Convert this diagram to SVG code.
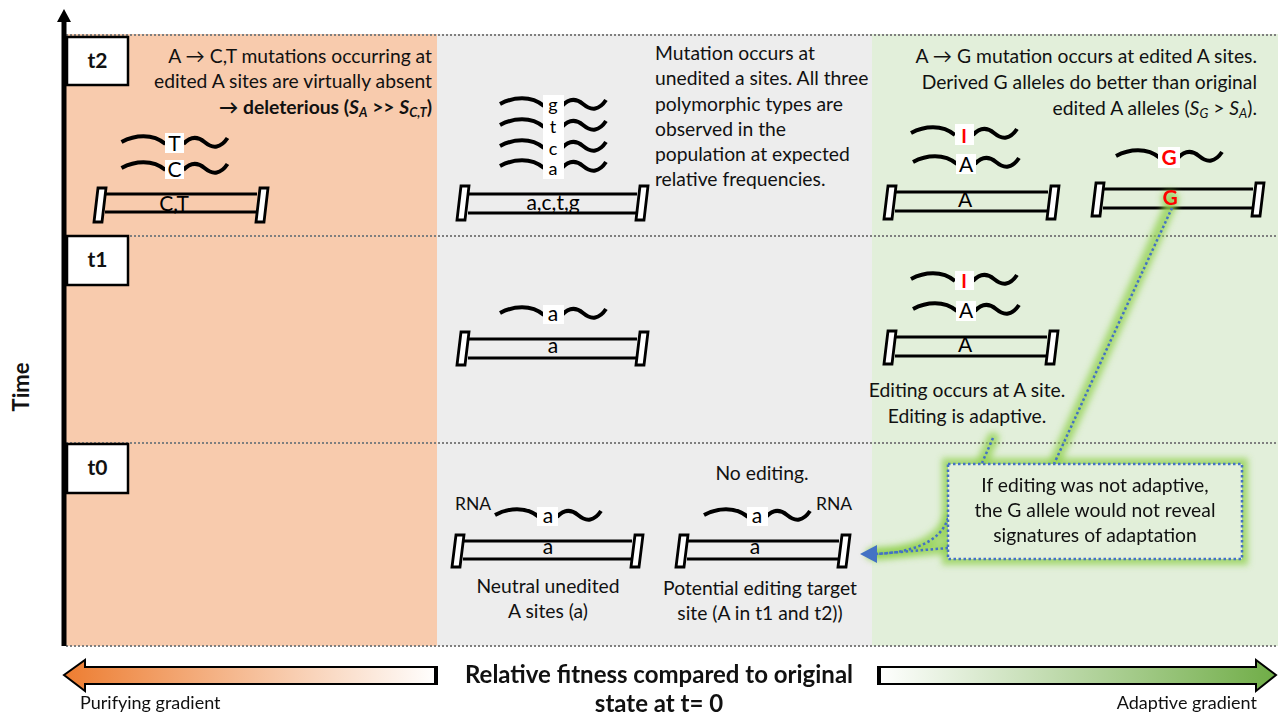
<svg xmlns="http://www.w3.org/2000/svg" width="1278" height="716" viewBox="0 0 1278 716">
<defs>
<style>
.t{font-family:Lato,"Liberation Sans",sans-serif;font-size:19.3px;fill:#111}
.lb{font-family:Lato,"Liberation Sans",sans-serif;font-size:21px;fill:#000;text-anchor:middle}
.sm{font-size:18px}
.bold{font-weight:bold}
.red{fill:#FF0000;font-weight:bold}
.wave{fill:none;stroke:#000;stroke-width:4;stroke-linecap:butt}
.bar{stroke:#000;stroke-width:3}
.cap{fill:#fff;stroke:#000;stroke-width:2.8}
.lblbox{fill:#fff}
.dot{fill:none;stroke:#7F7F7F;stroke-width:2;stroke-dasharray:2 2}
.conn{fill:none;stroke:#4472C4;stroke-width:2.5;stroke-dasharray:2.5 2.5}
.glow{fill:none;stroke:#92D050;stroke-width:12;opacity:0.75;stroke-linecap:round}
.tbox{fill:#fff;stroke:#000;stroke-width:2.5}
</style>
<filter id="blur" x="-20%" y="-20%" width="140%" height="140%"><feGaussianBlur stdDeviation="3"/></filter>
<linearGradient id="gOr" x1="0" x2="1" y1="0" y2="0"><stop offset="0" stop-color="#ED7D31"/><stop offset="1" stop-color="#FFFFFF"/></linearGradient>
<linearGradient id="gGr" x1="0" x2="1" y1="0" y2="0"><stop offset="0" stop-color="#FFFFFF"/><stop offset="1" stop-color="#70AD47"/></linearGradient>
<g id="w"><path class="wave" d="M-53,-1 C-40,-8 -22,-10 -9,1"/><path class="wave" d="M9,1 Q19,-10 30,-1 Q43,10 53,-5"/></g>
</defs>

<!-- panels -->
<g id="panels">
<rect x="66" y="34" width="371" height="612" fill="#F8CBAD"/>
<rect x="437" y="34" width="435" height="612" fill="#EDEDED"/>
<rect x="872" y="34" width="406" height="612" fill="#E2EFDA"/>
<line class="dot" x1="66" y1="35" x2="1278" y2="35"/>
<line class="dot" x1="66" y1="236" x2="1278" y2="236"/>
<line class="dot" x1="66" y1="443" x2="1278" y2="443"/>
<line class="dot" x1="66" y1="646" x2="1278" y2="646"/>
</g>

<!-- axis -->
<g id="axis">
<line x1="64" y1="18" x2="64" y2="646" stroke="#000" stroke-width="5"/>
<polygon points="64,9 57,22 71,22" fill="#000"/>
<text class="t bold" transform="translate(29,387) rotate(-90)" text-anchor="middle" style="font-size:22px">Time</text>
</g>

<g id="t2label"><rect class="tbox" x="67" y="37" width="61" height="48"/><text class="t bold" x="97.5" y="68" text-anchor="middle" style="font-size:21px">t2</text></g>
<g id="t1label"><rect class="tbox" x="67" y="236" width="61" height="49"/><text class="t bold" x="97.5" y="267" text-anchor="middle" style="font-size:21px">t1</text></g>
<g id="t0label"><rect class="tbox" x="67" y="444" width="61" height="49"/><text class="t bold" x="97.5" y="475" text-anchor="middle" style="font-size:21px">t0</text></g>

<!-- orange t2 -->
<g id="orange-t2">
<text class="t" text-anchor="end" x="432" y="63">A → C,T mutations occurring at</text>
<text class="t" text-anchor="end" x="432" y="88">edited A sites are virtually absent</text>
<text class="t bold" text-anchor="end" x="432" y="114">→ deleterious (<tspan font-style="italic">S</tspan><tspan font-style="italic" font-size="13" dy="3">A</tspan><tspan dy="-3"> &gt;&gt; </tspan><tspan font-style="italic">S</tspan><tspan font-style="italic" font-size="13" dy="3">C,T</tspan><tspan dy="-3">)</tspan></text>
<use href="#w" x="174.5" y="143"/><rect class="lblbox" x="165" y="133" width="19" height="20"/><text class="lb" x="174.5" y="151">T</text>
<use href="#w" x="174.5" y="169"/><rect class="lblbox" x="165" y="160" width="19" height="19"/><text class="lb" x="174.5" y="177">C</text>
<line class="bar" x1="105" y1="194" x2="257" y2="194"/><line class="bar" x1="105" y1="212" x2="257" y2="212"/>
<text class="lb" x="174" y="211">C,T</text>
<polygon class="cap" points="94,222 98,188 106,188 102,222"/>
<polygon class="cap" points="256,222 260,188 268,188 264,222"/>
</g>

<!-- gray t2 -->
<g id="gray-t2">
<use href="#w" x="553" y="105"/><use href="#w" x="553" y="126"/><use href="#w" x="553" y="147"/><use href="#w" x="553" y="167"/>
<rect class="lblbox" x="543" y="95" width="21" height="84"/>
<text class="lb sm" x="553" y="111">g</text><text class="lb sm" x="553" y="133">t</text><text class="lb sm" x="553" y="155">c</text><text class="lb sm" x="553" y="175">a</text>
<line class="bar" x1="468" y1="194" x2="637" y2="194"/><line class="bar" x1="468" y1="213" x2="637" y2="213"/>
<text class="lb" x="553" y="210">a,c,t,g</text>
<polygon class="cap" points="457,220 461,186 469,186 465,220"/>
<polygon class="cap" points="636,220 640,186 648,186 644,220"/>
<text class="t" x="655" y="60">Mutation occurs at</text>
<text class="t" x="655" y="85">unedited a sites. All three</text>
<text class="t" x="655" y="111">polymorphic types are</text>
<text class="t" x="655" y="136">observed in the</text>
<text class="t" x="655" y="161">population at expected</text>
<text class="t" x="655" y="186">relative frequencies.</text>
</g>

<!-- green t2 -->
<g id="green-t2">
<text class="t" text-anchor="end" x="1257" y="63">A → G mutation occurs at edited A sites.</text>
<text class="t" text-anchor="end" x="1257" y="89">Derived G alleles do better than original</text>
<text class="t" text-anchor="end" x="1257" y="115">edited A alleles (<tspan font-style="italic">S</tspan><tspan font-style="italic" font-size="13" dy="3">G</tspan><tspan dy="-3"> &gt; </tspan><tspan font-style="italic">S</tspan><tspan font-style="italic" font-size="13" dy="3">A</tspan><tspan dy="-3">).</tspan></text>
<use href="#w" x="964" y="134"/><rect class="lblbox" x="955" y="124" width="19" height="21"/><text class="lb red" x="964" y="143" style="font-size:19px">I</text>
<use href="#w" x="966" y="163"/><rect class="lblbox" x="956" y="154" width="20" height="20"/><text class="lb" x="966" y="172">A</text>
<line class="bar" x1="895" y1="192" x2="1048" y2="192"/><line class="bar" x1="895" y1="211" x2="1048" y2="211"/>
<text class="lb" x="965" y="207">A</text>
<polygon class="cap" points="884,219 888,186 896,186 892,219"/>
<polygon class="cap" points="1047,219 1051,186 1059,186 1055,219"/>
<use href="#w" x="1169" y="157"/><rect class="lblbox" x="1158" y="147" width="22" height="21"/><text class="lb red" x="1169" y="165">G</text>
<line class="bar" x1="1103" y1="189" x2="1253" y2="189"/><line class="bar" x1="1103" y1="208" x2="1253" y2="208"/>
<polygon class="cap" points="1092,216 1096,183 1104,183 1100,216"/>
<polygon class="cap" points="1252,216 1256,183 1264,183 1260,216"/>
</g>

<!-- gray t1 -->
<g id="gray-t1">
<use href="#w" x="553" y="314"/><rect class="lblbox" x="543" y="305" width="21" height="19"/><text class="lb" x="553" y="321">a</text>
<line class="bar" x1="468" y1="339" x2="637" y2="339"/><line class="bar" x1="468" y1="358" x2="637" y2="358"/>
<text class="lb" x="553" y="353">a</text>
<polygon class="cap" points="457,365 461,332 469,332 465,365"/>
<polygon class="cap" points="636,365 640,332 648,332 644,365"/>
</g>

<!-- green t1 -->
<g id="green-t1">
<use href="#w" x="964" y="280"/><rect class="lblbox" x="955" y="271" width="19" height="19"/><text class="lb red" x="964" y="288" style="font-size:19px">I</text>
<use href="#w" x="966" y="310"/><rect class="lblbox" x="956" y="301" width="20" height="20"/><text class="lb" x="966" y="318">A</text>
<line class="bar" x1="895" y1="337" x2="1047" y2="337"/><line class="bar" x1="895" y1="356" x2="1047" y2="356"/>
<text class="lb" x="965" y="352">A</text>
<polygon class="cap" points="884,364 888,331 896,331 892,364"/>
<polygon class="cap" points="1046,364 1050,331 1058,331 1054,364"/>
<text class="t" x="967" y="397" text-anchor="middle">Editing occurs at A site.</text>
<text class="t" x="967" y="423" text-anchor="middle">Editing is adaptive.</text>
</g>

<!-- gray t0 -->
<g id="gray-t0-neutral">
<text class="t" x="455" y="510" style="font-size:17.5px">RNA</text>
<use href="#w" x="548" y="516"/><rect class="lblbox" x="537" y="507" width="21" height="19"/><text class="lb" x="548" y="523">a</text>
<line class="bar" x1="463" y1="541" x2="632" y2="541"/><line class="bar" x1="463" y1="559" x2="632" y2="559"/>
<text class="lb" x="548" y="554">a</text>
<polygon class="cap" points="452,567 456,535 464,535 460,567"/>
<polygon class="cap" points="631,567 635,535 643,535 639,567"/>
<text class="t" x="548" y="593" text-anchor="middle">Neutral unedited</text>
<text class="t" x="548" y="618" text-anchor="middle">A sites (a)</text>
</g>
<g id="gray-t0-target">
<text class="t" x="762" y="480" text-anchor="middle">No editing.</text>
<use href="#w" x="757" y="516"/><rect class="lblbox" x="747" y="507" width="21" height="19"/><text class="lb" x="757" y="523">a</text>
<text class="t" x="816" y="510" style="font-size:17.5px">RNA</text>
<line class="bar" x1="687" y1="541" x2="839" y2="541"/><line class="bar" x1="687" y1="559" x2="839" y2="559"/>
<text class="lb" x="755" y="554">a</text>
<polygon class="cap" points="676,567 680,535 688,535 684,567"/>
<polygon class="cap" points="838,567 842,535 850,535 846,567"/>
<text class="t" x="760" y="595" text-anchor="middle">Potential editing target</text>
<text class="t" x="760" y="620" text-anchor="middle">site (A in t1 and t2))</text>
</g>

<!-- connectors -->
<g id="connectors">
<g filter="url(#blur)">
<path class="glow" d="M993,438 L982,463"/>
<path class="glow" d="M1171,204 Q1120,320 1054,464"/>
<path class="glow" d="M948,518 C940,545 905,553 872,554"/>
<path class="glow" d="M948,548 L872,554"/>
<rect class="glow" x="948" y="464" width="294" height="95" stroke-width="10"/>
<circle cx="1170" cy="199" r="9" fill="#92D050" opacity="0.7"/>
</g>
<text class="lb red" x="1170" y="205">G</text>
<path class="conn" d="M993,438 L982,463"/>
<path class="conn" d="M1172,208 Q1120,320 1054,464"/>
<path class="conn" d="M948,518 C940,545 905,553 876,554"/>
<path class="conn" d="M948,548 L876,554"/>
<polygon points="860,554 877,545 877,563" fill="#4472C4"/>
</g>

<!-- callout -->
<g id="callout">
<rect x="948" y="464" width="294" height="95" fill="#E2EFDA" stroke="#4472C4" stroke-width="2.5" stroke-dasharray="2.5 2.5"/>
<text class="t" x="1095" y="492" text-anchor="middle">If editing was not adaptive,</text>
<text class="t" x="1095" y="517" text-anchor="middle">the G allele would not reveal</text>
<text class="t" x="1095" y="542" text-anchor="middle">signatures of adaptation</text>
</g>

<!-- bottom -->
<g id="purifying">
<polygon points="64,675 85,660 85,667 437,667 437,684 85,684 85,691" fill="url(#gOr)" stroke="#000" stroke-width="2"/>
<line x1="436" y1="666" x2="436" y2="685" stroke="#000" stroke-width="4"/>
<text class="t" x="80" y="709" style="font-size:18px">Purifying gradient</text>
</g>
<g id="fitness-label">
<text class="t bold" x="659" y="683" text-anchor="middle" style="font-size:24px">Relative fitness compared to original</text>
<text class="t bold" x="659" y="712" text-anchor="middle" style="font-size:24px">state at t= 0</text>
</g>
<g id="adaptive">
<polygon points="878,667 1256,667 1256,660 1276,675 1256,691 1256,684 878,684" fill="url(#gGr)" stroke="#000" stroke-width="2"/>
<line x1="879" y1="666" x2="879" y2="685" stroke="#000" stroke-width="4"/>
<text class="t" x="1257" y="709" text-anchor="end" style="font-size:18px">Adaptive gradient</text>
</g>
</svg>
